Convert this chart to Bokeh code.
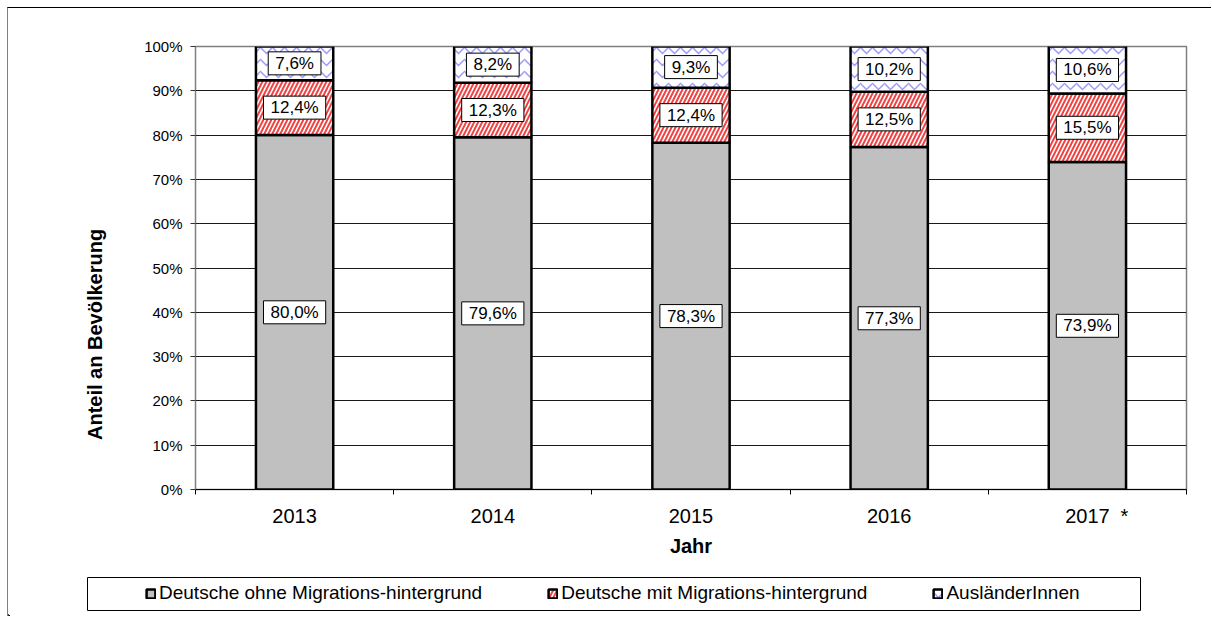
import numpy as np
from bokeh.plotting import figure
from bokeh.layouts import column
from bokeh.models import (ColumnDataSource, Range1d, FixedTicker, LinearAxis,
                          Legend, LegendItem, PrintfTickFormatter)
from bokeh.core.properties import value
from bokeh.embed import file_html
from bokeh.resources import INLINE

# ---------------- data ----------------
years = ["2013", "2014", "2015", "2016", "2017"]
ohne_migration = [80.0, 79.6, 78.3, 77.3, 73.9]
mit_migration = [12.4, 12.3, 12.4, 12.5, 15.5]
auslaender = [7.6, 8.2, 9.3, 10.2, 10.6]
series_names = ["Deutsche ohne Migrations-hintergrund",
                "Deutsche mit Migrations-hintergrund",
                "AusländerInnen"]
y_ticks = list(range(0, 101, 10))
x_title = "Jahr"
y_title = "Anteil an Bevölkerung"
footnote_mark = "*"

FONT = "Liberation Sans"
W = 1203
BL, BR = 187, 25  # main figure side borders

# ---------------- derived (100% stacked) ----------------
x = np.arange(len(years)) + 0.5
vals = np.array([ohne_migration, mit_migration, auslaender])
shares = vals / vals.sum(axis=0) * 100
tops = np.cumsum(shares, axis=0)
bottoms = tops - shares
mids = (tops + bottoms) / 2


def fmt(v):
    return f"{v:.1f}".replace(".", ",") + "%"


p = figure(width=W, height=562, output_backend="svg", toolbar_location=None,
           x_range=Range1d(0, len(years)), y_range=Range1d(0, 100),
           min_border_left=BL, min_border_right=BR, min_border_top=38,
           min_border_bottom=81)
p.background_fill_color = "white"
p.border_fill_color = "white"
p.outline_line_color = "#808080"
p.outline_line_width = 1.5

p.xgrid.visible = False
p.ygrid.ticker = FixedTicker(ticks=y_ticks)
p.ygrid.grid_line_color = "#1a1a1a"
p.ygrid.grid_line_width = 1

bar_styles = [
    dict(fill_color="#c0c0c0"),
    dict(fill_color="white", hatch_pattern="right_diagonal_line", hatch_color="#f04444",
         hatch_scale=8, hatch_weight=2),
    dict(fill_color="white", hatch_pattern="horizontal_wave", hatch_color="#9a9aff",
         hatch_scale=12, hatch_weight=1.5),
]

for i in range(len(series_names)):
    src = ColumnDataSource(dict(x=x, bottom=bottoms[i], top=tops[i], mid=mids[i],
                                label=[fmt(v) for v in vals[i]]))
    p.vbar(x="x", bottom="bottom", top="top", width=0.39, source=src,
           line_color="black", line_width=2.5, **bar_styles[i])
    p.text(x="x", y="mid", text="label", source=src,
           text_align="center", text_baseline="middle",
           text_font=value(FONT), text_font_size=value("17px"),
           text_color="black",
           background_fill_color="white", border_line_color="black",
           border_line_width=1,
           padding=dict(left=7, right=7, top=2, bottom=2))

# y axis (ticks)
yax = p.yaxis[0]
yax.ticker = FixedTicker(ticks=y_ticks)
yax.formatter = PrintfTickFormatter(format="%d%%")
yax.axis_line_color = "#808080"
yax.major_tick_line_color = "#333333"
yax.major_tick_in = 0
yax.major_tick_out = 5
yax.minor_tick_line_color = None
yax.major_label_standoff = 8
yax.major_label_text_font = FONT
yax.major_label_text_font_size = "15px"
yax.major_label_text_color = "black"

# y title: a single rotated tick label on an extra, otherwise invisible axis
title_pos = 35
yt = LinearAxis(ticker=FixedTicker(ticks=[title_pos]),
                major_label_overrides={title_pos: y_title},
                major_label_orientation="vertical",
                axis_line_color=None, major_tick_line_color=None,
                minor_tick_line_color=None, major_tick_in=0, major_tick_out=0,
                major_label_standoff=35,
                major_label_text_font=FONT, major_label_text_font_size="20px",
                major_label_text_font_style="bold", major_label_text_color="black")
p.add_layout(yt, "left")

# x axis: year labels at bar centres, tick marks at category boundaries
star_offset = 0.187
xax = p.xaxis[0]
xax.ticker = FixedTicker(ticks=list(x) + [x[-1] + star_offset],
                         minor_ticks=list(range(len(years) + 1)))
overrides = {float(xi): yr for xi, yr in zip(x, years)}
overrides[float(x[-1] + star_offset)] = footnote_mark
xax.major_label_overrides = overrides
xax.axis_line_color = "black"
xax.major_tick_line_color = None
xax.major_tick_in = 0
xax.major_tick_out = 0
xax.minor_tick_line_color = "black"
xax.minor_tick_in = 0
xax.minor_tick_out = 5
xax.major_label_standoff = 10
xax.major_label_text_font = FONT
xax.major_label_text_font_size = "20px"
xax.major_label_text_color = "black"
xax.axis_label = x_title
xax.axis_label_standoff = 5
xax.axis_label_text_font = FONT
xax.axis_label_text_font_size = "20px"
xax.axis_label_text_font_style = "bold"
xax.axis_label_text_color = "black"

# ---------------- legend strip ----------------
LH = 46
free = "frame_align" in p.properties()
if free:
    p.frame_align = False
    b2l, b2r = 0, 0
    box_left, box_right = 79, 1132
    item_start, spacing = 137, 65
else:
    b2l, b2r = BL, BR
    box_left, box_right = BL + 1, 1132
    item_start, spacing = BL + 11, 50
box_top, box_bottom = 39, 6

p2 = figure(width=W, height=LH, output_backend="svg", toolbar_location=None,
            x_range=Range1d(b2l, W - b2r), y_range=Range1d(0, LH),
            x_axis_location=None, y_axis_location=None,
            min_border_left=b2l, min_border_right=b2r, min_border_top=0, min_border_bottom=0)
if free:
    p2.frame_align = False
p2.grid.visible = False
p2.outline_line_color = None
p2.background_fill_color = "white"
p2.border_fill_color = "white"

p2.quad(left=[box_left], right=[box_right], top=[box_top], bottom=[box_bottom],
        fill_color="white", line_color="black", line_width=1)

# legend proxies: one off-range bar per series so the legend swatches get their styles
proxy_x = [b2l - 50]
dummies = [p2.vbar(x=proxy_x, bottom=[0], top=[1], width=1, line_color="black",
                   line_width=2.5, **st) for st in bar_styles]
legend = Legend(items=[LegendItem(label=n, renderers=[r]) for n, r in zip(series_names, dummies)],
                orientation="horizontal", location=(item_start - b2l, 12),
                label_text_font=FONT, label_text_font_size="19px", label_text_color="black",
                glyph_width=11, glyph_height=11, label_standoff=3, spacing=spacing,
                padding=0, margin=0, border_line_color=None,
                background_fill_alpha=0, label_height=20)
p2.add_layout(legend)

layout = column(p, p2, spacing=0)
layout.styles = {"margin-left": "7px", "margin-top": "7px",
                 "border-top": "1px solid #000000", "border-left": "1px solid #808080"}

open("out.html", "w").write(file_html(layout, INLINE))
